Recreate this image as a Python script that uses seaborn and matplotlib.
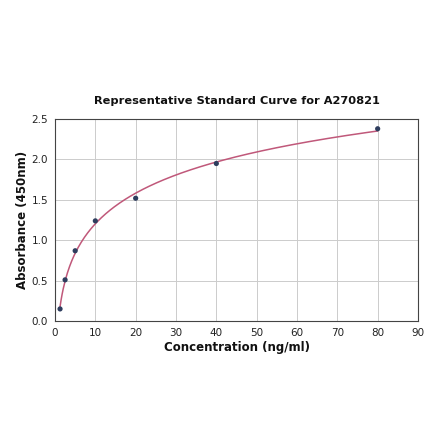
import numpy as np
import matplotlib
matplotlib.use("Agg")
import matplotlib.pyplot as plt
import seaborn as sns

# Standard curve data
conc = [1.25, 2.5, 5, 10, 20, 40, 80]
absorbance = [0.15, 0.51, 0.87, 1.24, 1.52, 1.95, 2.38]

x_ticks = [0, 10, 20, 30, 40, 50, 60, 70, 80, 90]
y_ticks = [0.0, 0.5, 1.0, 1.5, 2.0, 2.5]

sns.set_style("whitegrid")
plt.rcParams['font.family'] = ['DejaVu Sans']
plt.rcParams['text.color'] = '#111111'
plt.rcParams['axes.labelcolor'] = '#111111'
plt.rcParams['xtick.color'] = '#222222'
plt.rcParams['ytick.color'] = '#222222'

# 4PL fit: for each (b, c) on a grid, solve a and d by least squares
x = np.array(conc)
y = np.array(absorbance)
best = None
for b in np.linspace(0.3, 1.5, 121):
    for c in np.exp(np.linspace(np.log(1), np.log(2000), 200)):
        g = 1.0 / (1.0 + (x / c) ** b)
        A = np.column_stack([g, 1 - g])
        sol, *_ = np.linalg.lstsq(A, y, rcond=None)
        err = np.sum((A @ sol - y) ** 2)
        if best is None or err < best[0]:
            best = (err, b, c, sol)
_, b, c, (a, d) = best

fig = plt.figure(figsize=(4.4, 4.41), dpi=100)
ax = fig.add_axes([0.125, 0.272, 0.825, 0.458])

xs = np.linspace(min(conc), max(conc), 300)
ys = d + (a - d) / (1 + (xs / c) ** b)
sns.lineplot(x=xs, y=ys, ax=ax, color="#c0587a", linewidth=1.1)
sns.scatterplot(x=conc, y=absorbance, ax=ax, color="#2e3d5e", s=14,
                edgecolor="none", zorder=3)

ax.set_xlim(0, 90)
ax.set_ylim(0, 2.5)
ax.set_xticks(x_ticks)
ax.set_yticks(y_ticks)
ax.tick_params(labelsize=7.5, length=3, color="#444444", pad=2)
ax.grid(color="#cccccc", linewidth=0.7)
for sp in ax.spines.values():
    sp.set_color("#444444")
    sp.set_linewidth(0.8)

ax.set_title("Representative Standard Curve for A270821", fontsize=8.2,
             fontweight="bold", pad=11)
ax.set_xlabel("Concentration (ng/ml)", fontsize=8.5, fontweight="bold", labelpad=2)
ax.set_ylabel("Absorbance (450nm)", fontsize=8.5, fontweight="bold", labelpad=2)

fig.savefig("out.png", dpi=100)
